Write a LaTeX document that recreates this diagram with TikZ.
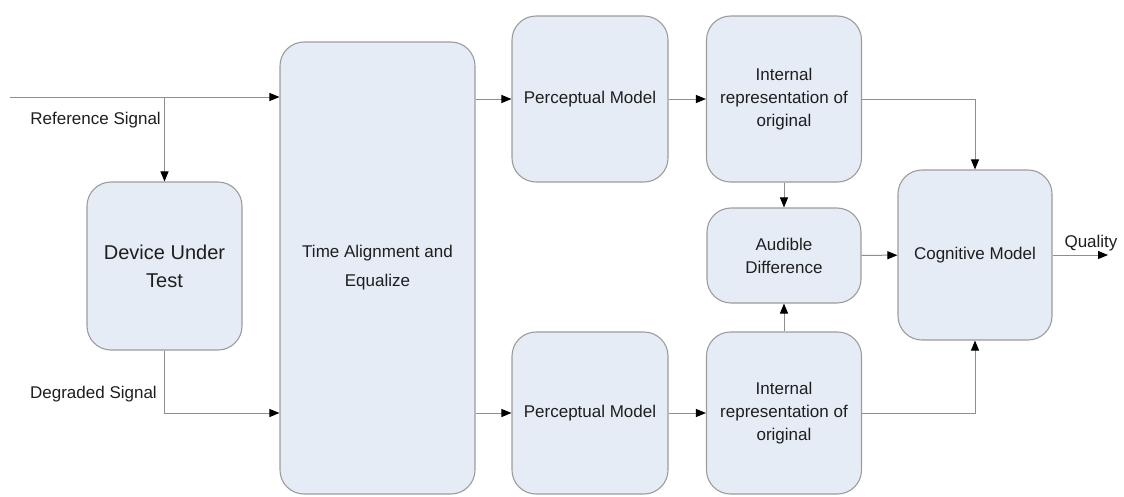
\documentclass[tikz,border=0pt]{standalone}
\usepackage{fontspec}
\setmainfont{Liberation Sans}
\usetikzlibrary{arrows.meta, positioning}
\definecolor{boxfill}{HTML}{E6ECF6}
\definecolor{boxline}{HTML}{9C9C9C}
\definecolor{wire}{HTML}{8E8E8E}
\definecolor{txt}{HTML}{1E1E1E}
\tikzstyle{block} = [draw=boxline, fill=boxfill, rounded corners=24pt, line width=1.1pt, inner sep=0pt, align=center, text=txt, font=\fontsize{17}{23}\selectfont]
\tikzstyle{reg} = [-{Triangle[length=10pt, width=8pt, color=black]}, draw=wire, line width=1pt]
\tikzstyle{lbl} = [text=txt, inner sep=0pt, font=\fontsize{17}{23}\selectfont]

\begin{document}
\begin{tikzpicture}[x=1pt, y=-1pt]
  \useasboundingbox (0,0) rectangle (1124,496);

  % input side
  \node[block, minimum width=155pt, minimum height=168pt, font=\fontsize{20}{28}\selectfont] (dut) at (164.5,266) {Device Under\\Test};
  \node[block, minimum width=195pt, minimum height=452pt, font=\fontsize{17}{29}\selectfont] (tae) at (377.5,268) {Time Alignment and\\Equalize};

  % top row
  \node[block, minimum width=156pt, minimum height=166pt] (pmtop) at (590,99) {Perceptual Model};
  \node[block, minimum width=155pt, minimum height=166pt] (irtop) at (784,99) {Internal\\representation of\\original};

  % bottom row
  \node[block, minimum width=156pt, minimum height=162pt] (pmbot) at (590,413) {Perceptual Model};
  \node[block, minimum width=155pt, minimum height=162pt] (irbot) at (784,413) {Internal\\representation of\\original};

  % middle
  \node[block, minimum width=154pt, minimum height=95pt] (aud) at (784,255.5) {Audible\\Difference};
  \node[block, minimum width=154pt, minimum height=170pt] (cog) at (975,255) {Cognitive Model};

  % signal labels
  \coordinate (refin) at (10,97);
  \coordinate (qout) at (1108,255);
  \node[lbl, anchor=east] (reflbl) at (161,120) {Reference Signal};
  \node[lbl, anchor=east] (deglbl) at (157,394) {Degraded Signal};
  \node[lbl] (qlbl) at (1091,243) {Quality};

  % inputs
  \draw[reg] (refin) -- (refin -| tae.west);
  \draw[reg] (refin -| dut.north) -- (dut.north);
  \draw[reg] (dut.south) |- (tae.west |- pmbot.west);

  % alignment to models
  \draw[reg] (tae.east |- pmtop.west) -- (pmtop.west);
  \draw[reg] (tae.east |- pmbot.west) -- (pmbot.west);
  \draw[reg] (pmtop) -- (irtop);
  \draw[reg] (pmbot) -- (irbot);

  % difference
  \draw[reg] (irtop) -- (aud);
  \draw[reg] (irbot) -- (aud);
  \draw[reg] (aud) -- (cog);

  % cognitive model
  \draw[reg] (irtop.east) -| (cog.north);
  \draw[reg] (irbot.east) -| (cog.south);
  \draw[reg] (cog) -- (qout);
\end{tikzpicture}
\end{document}
